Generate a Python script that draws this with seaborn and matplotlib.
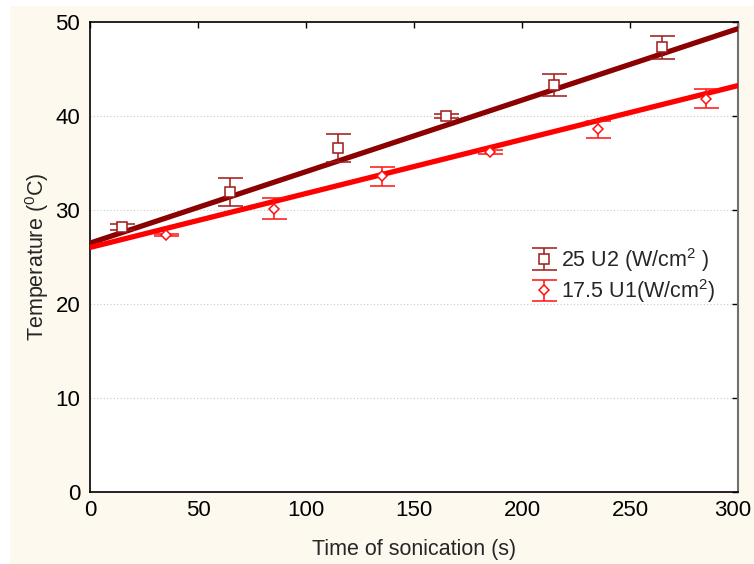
import numpy as np
import pandas as pd
import matplotlib.pyplot as plt
import seaborn as sns
from matplotlib.patches import Rectangle
from matplotlib.transforms import ScaledTranslation

# sonication time (s) of each measurement, both series
time_s = [25, 75, 125, 175, 225, 275]

# 25 U2 series: mean temperature and error
temp_u2 = [28.2, 31.9, 36.6, 40.0, 43.3, 47.3]
err_u2 = [0.3, 1.5, 1.5, 0.25, 1.2, 1.2]

# 17.5 U1 series
temp_u1 = [27.35, 30.15, 33.6, 36.2, 38.6, 41.85]
err_u1 = [0.1, 1.1, 1.0, 0.2, 0.9, 1.05]

labels = ["25 U2 (W/cm$^2$ )", "17.5 U1(W/cm$^2$)"]
dodge = [-10, 10]

sns.set_style("white")
plt.rcParams['font.family'] = ['Liberation Sans', 'DejaVu Sans']
plt.rcParams['mathtext.fontset'] = 'custom'
plt.rcParams['mathtext.rm'] = 'Liberation Sans'

fig = plt.figure(figsize=(7.54, 5.64), dpi=100)
fig.patch.set_facecolor('white')
fig.patches.append(Rectangle((10 / 754, 0), 1, 1 - 6 / 564, transform=fig.transFigure,
                             facecolor='#fdf9ee', edgecolor='none', zorder=-10))
ax = fig.add_axes([90 / 754, 72 / 564, 648 / 754, 470 / 564])
ax.set_facecolor('white')
ax.set_xlim(0, 300)
ax.set_ylim(0, 50)

df = pd.DataFrame({
    'time': time_s * 2,
    'temp': temp_u2 + temp_u1,
    'err': err_u2 + err_u1,
    'series': [labels[0]] * 6 + [labels[1]] * 6,
})

line_cols = ['#8b0000', '#ff0000']
bar_cols = ['#a01818', '#ff1010']
markers = ['s', 'D']
msizes = [7, 5]
handles = []
for i, lab in enumerate(labels):
    d = df[df['series'] == lab]
    sns.regplot(data=d, x='time', y='temp', ax=ax, scatter=False, ci=None,
                truncate=False, color=line_cols[i], line_kws={'lw': 3.8, 'zorder': 3})
    eb = ax.errorbar(d['time'] + dodge[i], d['temp'], yerr=d['err'], fmt=markers[i],
                     ms=msizes[i], mfc='white', mec=bar_cols[i], mew=1.1,
                     ecolor=bar_cols[i], elinewidth=1.1, capsize=9, capthick=1.1, zorder=4)
    handles.append(eb)

ax.set_yticks([0, 10, 20, 30, 40, 50])
ax.set_xticks([0, 50, 100, 150, 200, 250, 300])
ax.yaxis.grid(True, linestyle=(0, (1, 2)), color='#c8c8c8', lw=0.8)
ax.xaxis.grid(False)
ax.tick_params(axis='both', direction='in', length=4, width=1, labelsize=16,
               top=True, right=True, colors='black')
ax.tick_params(axis='x', pad=6)
ax.tick_params(axis='y', pad=7)
for s in ['left', 'bottom', 'top']:
    ax.spines[s].set_color('black')
    ax.spines[s].set_linewidth(1.2)
ax.spines['right'].set_color('#707070')
ax.spines['right'].set_linewidth(1.5)

ax.set_xlabel("Time of sonication (s)", fontsize=15.5, labelpad=13)
ax.set_ylabel("Temperature ($^0$C)", fontsize=15.5, labelpad=3)

ax.legend(handles, labels, frameon=False, fontsize=15.5, loc='upper left',
          bbox_to_anchor=(0.647, 0.565), handlelength=1.4, handletextpad=0.1,
          labelspacing=0.15)

# pull the last x tick label in so it stays on the figure
fig.canvas.draw()
last = ax.xaxis.get_major_ticks()[-1].label1
last.set_transform(last.get_transform() + ScaledTranslation(-0.055, 0, fig.dpi_scale_trans))

plt.savefig("out.png", dpi=100)
